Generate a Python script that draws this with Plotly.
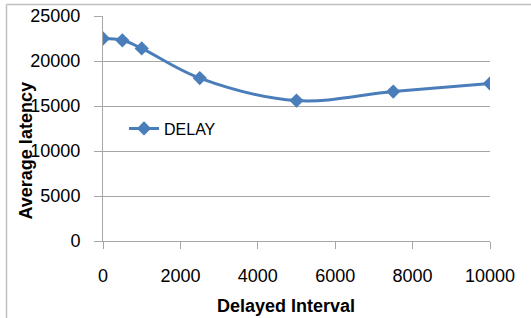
import plotly.graph_objects as go

x_interval = [0, 500, 1000, 2500, 5000, 7500, 10000]
avg_latency = [22500, 22300, 21400, 18100, 15600, 16600, 17500]
series_name = "DELAY"
x_ticks = [0, 2000, 4000, 6000, 8000, 10000]
y_ticks = [0, 5000, 10000, 15000, 20000, 25000]

W, H = 531, 318
L, R, T, B = 103, 41, 16, 77
pw, ph = W - L - R, H - T - B

def px_x(p):
    return (p - L) / pw

def px_y(p):
    return (H - B - p) / ph

fig = go.Figure()
fig.add_trace(go.Scatter(
    x=x_interval, y=avg_latency, name=series_name, mode="lines+markers",
    line=dict(color="#4a7ebb", width=3, shape="spline", smoothing=1),
    marker=dict(symbol="diamond", size=11, color="#4a7ebb"),
))

font = "Liberation Sans, Arial, sans-serif"
fig.update_layout(
    width=W, height=H,
    margin=dict(l=L, r=R, t=T, b=B, autoexpand=False),
    paper_bgcolor="white", plot_bgcolor="white",
    font=dict(family=font, color="black", size=18),
    showlegend=True,
    legend=dict(x=px_x(124), y=px_y(128.5), xanchor="left", yanchor="middle",
                bgcolor="rgba(0,0,0,0)", font=dict(size=16, family=font),
                itemwidth=30),
    xaxis=dict(range=[0, 10000], tickvals=x_ticks, tickformat="d",
               showgrid=False,
               showline=True, linecolor="#a6a6a6", linewidth=1,
               ticks="outside", ticklen=7, tickcolor="#a6a6a6",
               ticklabelstandoff=11, zeroline=False,
               tickfont=dict(size=18)),
    yaxis=dict(range=[0, 25000], tickvals=y_ticks, tickformat="d",
               showgrid=True,
               gridcolor="#a6a6a6", gridwidth=1,
               showline=True, linecolor="#a6a6a6", linewidth=1,
               ticks="outside", ticklen=8, tickcolor="#a6a6a6",
               ticklabelstandoff=10, zeroline=False,
               tickfont=dict(size=18)),
    annotations=[
        dict(text="<b>Delayed Interval</b>", xref="paper", yref="paper",
             x=px_x(285.6), y=px_y(305.6), xanchor="center", yanchor="middle",
             showarrow=False, font=dict(size=18)),
        dict(text="<b>Average latency</b>", xref="paper", yref="paper",
             x=px_x(25.5), y=px_y(151), xanchor="center", yanchor="middle",
             textangle=-90, showarrow=False, font=dict(size=18)),
    ],
    shapes=[
        dict(type="line", xref="paper", yref="paper",
             x0=px_x(6.5), x1=px_x(6.5), y0=px_y(H + 5), y1=px_y(4.5),
             line=dict(color="#bfbfbf", width=1.5), layer="above"),
        dict(type="line", xref="paper", yref="paper",
             x0=px_x(6.5), x1=px_x(W + 5), y0=px_y(4.5), y1=px_y(4.5),
             line=dict(color="#bfbfbf", width=1.5), layer="above"),
    ],
)

fig.write_html(
    "out.html",
    config={"displayModeBar": False},
    post_script="document.body.style.margin='0';document.body.style.overflow='hidden';",
)
